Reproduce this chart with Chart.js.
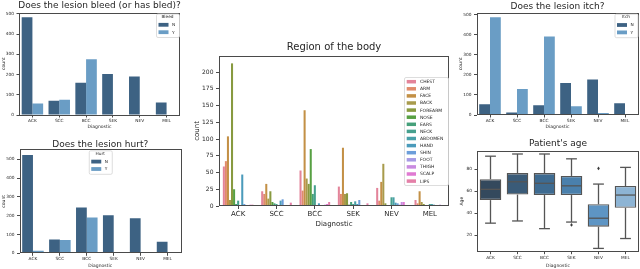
<!DOCTYPE html>
<html>
<head>
<meta charset="utf-8">
<script src="https://cdn.jsdelivr.net/npm/chart.js@4.4.0/dist/chart.umd.min.js"></script>
<style>
  html, body { margin: 0; padding: 0; background: #fff; width: 640px; height: 269px; overflow: hidden; }
  canvas { position: absolute; }
</style>
</head>
<body>
<canvas id="bleed" width="185" height="130" style="left:0;top:0"></canvas>
<canvas id="hurt" width="185" height="136" style="left:0;top:133px"></canvas>
<canvas id="region" width="262" height="205" style="left:188px;top:30px"></canvas>
<canvas id="itch" width="185" height="130" style="left:455px;top:0"></canvas>
<canvas id="age" width="185" height="136" style="left:455px;top:133px"></canvas>
<script>
/* ---- data ---- */
const diagnostics = ['ACK', 'SCC', 'BCC', 'SEK', 'NEV', 'MEL'];

const bleedN = [483, 70, 159, 203, 190, 62];
const bleedY = [57, 76, 276, 0, 3, 0];
const hurtN  = [523, 74, 243, 202, 186, 62];
const hurtY  = [14, 71, 190, 0, 0, 0];
const itchN  = [54, 13, 48, 160, 177, 58];
const itchY  = [487, 129, 391, 43, 10, 5];

const regions = ['CHEST', 'ARM', 'FACE', 'BACK', 'FOREARM', 'NOSE', 'EARS', 'NECK',
                 'ABDOMEN', 'HAND', 'SHIN', 'FOOT', 'THIGH', 'SCALP', 'LIPS'];
// one array per region, values in diagnostics order
const chest   = [59, 22, 53, 29, 27, 9];
const arm     = [67, 18, 23, 18, 8, 4];
const face    = [104, 33, 143, 87, 36, 22];
const back    = [9, 11, 41, 18, 63, 6];
const forearm = [213, 22, 33, 19, 4, 3];
const nose    = [25, 6, 85, 2, 1, 1];
const ears    = [3, 4, 18, 6, 1, 0];
const neck    = [8, 3, 31, 3, 13, 3];
const abdomen = [0, 0, 0, 7, 13, 3];
const hand    = [47, 8, 4, 3, 5, 2];
const shin    = [3, 10, 0, 9, 4, 1];
const foot    = [0, 0, 0, 0, 2, 0];
const thigh   = [0, 0, 2, 0, 6, 2];
const scalp   = [2, 1, 3, 0, 6, 0];
const lips    = [2, 5, 6, 4, 1, 0];
const regionCounts = [chest, arm, face, back, forearm, nose, ears, neck,
                      abdomen, hand, shin, foot, thigh, scalp, lips];

const ageMin = [31, 33, 26, 32, 8, 17];
const ageQ1  = [52, 57, 56.6, 56.6, 27.8, 45];
const ageMed = [61.8, 68.7, 67.3, 65, 35.5, 56.6];
const ageQ3  = [71, 76.6, 76.6, 74, 48.2, 64.8];
const ageMax = [92, 94, 94, 89.6, 66.6, 81.8];
const ageFliers = [[], [], [], [29.4], [80.9], []];

const countTicks  = [0, 100, 200, 300, 400, 500];
const regionTicks = [0, 25, 50, 75, 100, 125, 150, 175, 200];
const ageTicks    = [20, 40, 60, 80];

/* ---- styling ---- */
const FONT = "'DejaVu Sans', sans-serif";
const INK = '#262626';
const SPINE = '#4a4a4a';
const N_COLOR = '#3d6283';
const Y_COLOR = '#6a9dc5';
const REGION_COLORS = ['#e3849a', '#e08b6b', '#c39046', '#a89b4c', '#889a40', '#57a043',
                       '#45a07a', '#46a08e', '#48a0a8', '#4b9bbb', '#6c9eda', '#a69ae4',
                       '#c98ae0', '#e07ad2', '#e480a8'];
const BOX_COLORS = ['#34495d', '#3a5b78', '#3e6b91', '#4a80ac', '#5e95c4', '#8db4d4'];
const BOX_LINE = '#555555';

Chart.defaults.font.family = FONT;
Chart.defaults.color = INK;
Chart.defaults.animation = false;

// frame around the plot area + panel title
const framePlugin = {
  id: 'frame',
  afterDraw(chart, args, opts) {
    const { ctx, chartArea: a } = chart;
    ctx.save();
    ctx.strokeStyle = SPINE;
    ctx.lineWidth = 1;
    ctx.strokeRect(Math.round(a.left) + 0.5, Math.round(a.top) + 0.5,
                   Math.round(a.right - a.left) - 1, Math.round(a.bottom - a.top) - 1);
    ctx.fillStyle = INK;
    ctx.font = opts.size + 'px ' + FONT;
    ctx.textAlign = 'center';
    ctx.textBaseline = 'alphabetic';
    ctx.fillText(opts.text, (a.left + a.right) / 2, opts.y);
    ctx.restore();
  }
};

// matplotlib-like boxed legend
const boxLegend = {
  id: 'boxLegend',
  afterDraw(chart, args, o) {
    const ctx = chart.ctx;
    const a = chart.chartArea;
    const x = o.align === 'center' ? (a.left + a.right) / 2 - o.w / 2 : a.right - o.w - o.insetX;
    const y = a.top + o.insetY;
    ctx.save();
    ctx.fillStyle = 'rgba(255,255,255,0.85)';
    ctx.strokeStyle = '#d4d4d4';
    ctx.lineWidth = 0.8;
    ctx.beginPath();
    ctx.roundRect(x + 0.5, y + 0.5, o.w, o.h, 1.5);
    ctx.fill();
    ctx.stroke();
    ctx.font = o.size + 'px ' + FONT;
    ctx.textBaseline = 'middle';
    let row = y + o.first;
    if (o.title) {
      ctx.fillStyle = INK;
      ctx.textAlign = 'center';
      ctx.fillText(o.title, x + o.w / 2, y + o.titleY);
    }
    ctx.textAlign = 'left';
    chart.data.datasets.forEach(ds => {
      ctx.fillStyle = ds.backgroundColor;
      ctx.fillRect(x + o.patchX, row - o.patchH / 2, o.patchW, o.patchH);
      ctx.fillStyle = INK;
      ctx.fillText(ds.label, x + o.textX, row + 0.3);
      row += o.step;
    });
    ctx.restore();
  }
};

// whiskers, caps, medians and fliers on top of the floating-bar boxes
const whiskerPlugin = {
  id: 'whiskers',
  afterDatasetsDraw(chart) {
    const { ctx, scales: { y } } = chart;
    const meta = chart.getDatasetMeta(0);
    ctx.save();
    ctx.strokeStyle = BOX_LINE;
    ctx.lineWidth = 1.3;
    const line = (x1, y1, x2, y2) => { ctx.beginPath(); ctx.moveTo(x1, y1); ctx.lineTo(x2, y2); ctx.stroke(); };
    diagnostics.forEach((d, i) => {
      const bar = meta.data[i];
      const cx = bar.x, hw = bar.width / 2;
      const pMax = y.getPixelForValue(ageMax[i]), pMin = y.getPixelForValue(ageMin[i]);
      line(cx, y.getPixelForValue(ageQ3[i]), cx, pMax);
      line(cx, y.getPixelForValue(ageQ1[i]), cx, pMin);
      line(cx - hw / 2, pMax, cx + hw / 2, pMax);
      line(cx - hw / 2, pMin, cx + hw / 2, pMin);
      const pMed = y.getPixelForValue(ageMed[i]);
      line(cx - hw + 0.6, pMed, cx + hw - 0.6, pMed);
      ctx.fillStyle = '#3a3a3a';
      ageFliers[i].forEach(v => {
        const py = y.getPixelForValue(v);
        ctx.beginPath();
        ctx.moveTo(cx, py - 1.8); ctx.lineTo(cx + 1.3, py); ctx.lineTo(cx, py + 1.8); ctx.lineTo(cx - 1.3, py);
        ctx.closePath();
        ctx.fill();
      });
    });
    ctx.restore();
  }
};

function xAxis(L) {
  return {
    type: 'category',
    offset: true,
    afterFit: s => { s.height = L.xH; },
    grid: { display: true, offset: false, drawOnChartArea: false, tickLength: L.tickLen, tickColor: SPINE },
    border: { display: false },
    ticks: { font: { size: L.xTick }, padding: L.xPad, autoSkip: false, maxRotation: 0 },
    title: { display: true, text: 'Diagnostic', font: { size: L.label }, padding: { top: 0, bottom: 0 } }
  };
}

function yAxis(L, ticks, min, max, label) {
  return {
    min, max,
    afterBuildTicks: s => { s.ticks = ticks.map(v => ({ value: v })); },
    afterFit: s => { s.width = L.yW; },
    grid: { display: true, drawOnChartArea: false, tickLength: L.tickLen, tickColor: SPINE },
    border: { display: false },
    ticks: { font: { size: L.yTick }, padding: L.yPad },
    title: { display: true, text: label, font: { size: L.label }, padding: { top: L.labelPad, bottom: 0 } }
  };
}

const SMALL = { xH: 15, yW: 19, tickLen: 2.5, xTick: 4.3, yTick: 4.3, xPad: 0.5, yPad: 2.5, label: 4.5, labelPad: 0.8 };

function countChart(id, title, titleY, legendTitle, align, nData, yData, max, L, pad) {
  new Chart(document.getElementById(id), {
    type: 'bar',
    data: {
      labels: diagnostics,
      datasets: [
        { label: 'N', data: nData, backgroundColor: N_COLOR, categoryPercentage: 0.8, barPercentage: 1 },
        { label: 'Y', data: yData, backgroundColor: Y_COLOR, categoryPercentage: 0.8, barPercentage: 1 }
      ]
    },
    options: {
      responsive: false,
      layout: { padding: pad },
      scales: { x: xAxis(L), y: yAxis(L, countTicks, 0, max, 'count') },
      plugins: {
        legend: { display: false },
        tooltip: { enabled: false },
        frame: { text: title, y: titleY, size: 9 },
        boxLegend: { title: legendTitle, align, insetX: 1, insetY: 1, w: 23, h: 23.5, size: 4.3,
                     titleY: 3.5, first: 11.3, step: 7.4, patchX: 2.5, patchW: 10, patchH: 3.8, textX: 16 }
      }
    },
    plugins: [framePlugin, boxLegend]
  });
}

countChart('bleed', 'Does the lesion bleed (or has bled)?', 8.3, 'Bleed', 'right',
           bleedN, bleedY, 507, SMALL, { left: 0, top: 12.5, right: 5, bottom: 0 });
countChart('hurt', 'Does the lesion hurt?', 13.5, 'Hurt', 'center',
           hurtN, hurtY, 553, Object.assign({}, SMALL, { yW: 19.5 }), { left: 0, top: 16.3, right: 4, bottom: 0.7 });
countChart('itch', 'Does the lesion itch?', 9, 'Itch', 'right',
           itchN, itchY, 510, Object.assign({}, SMALL, { yW: 21.5, labelPad: 3.4 }), { left: 0, top: 12.7, right: 1.5, bottom: 0 });

// Region of the body
const BIG = { xH: 22.2, yW: 31, tickLen: 3, xTick: 7, yTick: 6, xPad: 1, yPad: 2.5, label: 7, labelPad: 5 };
new Chart(document.getElementById('region'), {
  type: 'bar',
  data: {
    labels: diagnostics,
    datasets: regions.map((r, k) => ({
      label: r, data: regionCounts[k], backgroundColor: REGION_COLORS[k],
      categoryPercentage: 0.8, barPercentage: 1
    }))
  },
  options: {
    responsive: false,
    layout: { padding: { left: 0, top: 26, right: 1, bottom: 6.8 } },
    scales: { x: xAxis(BIG), y: yAxis(BIG, regionTicks, 0, 224, 'count') },
    plugins: {
      legend: { display: false },
      tooltip: { enabled: false },
      frame: { text: 'Region of the body', y: 20, size: 10 },
      boxLegend: { title: '', align: 'right', insetX: 1, insetY: 21, w: 44, h: 108, size: 4.5,
                   first: 4.7, step: 7.1, patchX: 2.7, patchW: 9.3, patchH: 3.5, textX: 16 }
    }
  },
  plugins: [framePlugin, boxLegend]
});

// Patient's age
const AGE = Object.assign({}, SMALL, { xH: 16.6, yW: 22, labelPad: 4.5, xPad: 1.5 });
new Chart(document.getElementById('age'), {
  type: 'bar',
  data: {
    labels: diagnostics,
    datasets: [{
      label: 'Age',
      data: diagnostics.map((d, i) => [ageQ1[i], ageQ3[i]]),
      backgroundColor: BOX_COLORS,
      borderColor: BOX_LINE,
      borderWidth: 1.3,
      borderSkipped: false,
      categoryPercentage: 1,
      barPercentage: 0.8
    }]
  },
  options: {
    responsive: false,
    layout: { padding: { left: 0, top: 17.7, right: 1, bottom: 0.7 } },
    scales: {
      x: xAxis(AGE),
      y: yAxis(AGE, ageTicks, 5, 97, 'Age')
    },
    plugins: {
      legend: { display: false },
      tooltip: { enabled: false },
      frame: { text: "Patient's age", y: 12.7, size: 9 }
    }
  },
  plugins: [framePlugin, whiskerPlugin]
});
</script>
</body>
</html>
